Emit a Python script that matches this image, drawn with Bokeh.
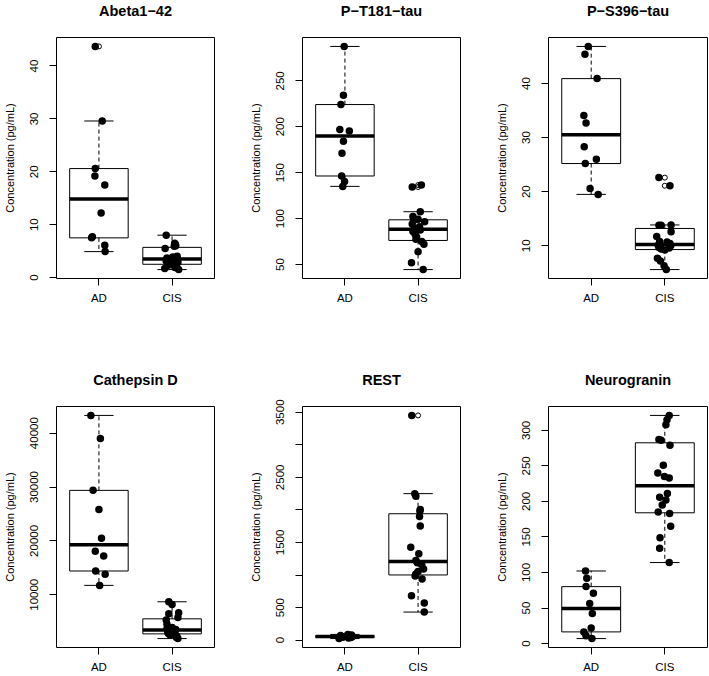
import math
from bokeh.plotting import figure
from bokeh.layouts import column, row
from bokeh.models import Range1d, FixedTicker, ColumnDataSource
from bokeh.embed import file_html
from bokeh.resources import INLINE

FONT = "Liberation Sans"

groups = ["AD", "CIS"]
y_axis_label = "Concentration (pg/mL)"

# ---- Panel 1: Abeta1-42 ----
abeta_title = "Abeta1\u221242"
abeta_ad = [43.7, 29.6, 20.6, 19.2, 17.5, 12.2, 7.5, 7.7, 6.1, 4.9]
abeta_ad_jit = [-0.05, 0.045, -0.05, -0.055, 0.08, 0.03, -0.10, -0.09, 0.08, 0.085]
abeta_cis = [1.5, 1.7, 1.9, 2.3, 2.4, 2.6, 2.9, 3.1, 3.3, 3.4, 3.6, 3.7, 3.9, 4.0, 5.5, 5.9, 6.0, 6.3, 6.5, 8.0]
abeta_cis_jit = [0.09, -0.1, 0.04, -0.05, 0.06, -0.02, 0.08, -0.08, 0.03, -0.04, 0.05, -0.07, 0.01, 0.07, -0.095, 0.03, 0.05, 0.045, 0.035, -0.08]
abeta_ticks = [0, 10, 20, 30, 40]
abeta_tick_labels = ["0", "10", "20", "30", "40"]

# ---- Panel 2: P-T181-tau ----
pt181_title = "P\u2212T181\u2212tau"
pt181_ad = [287.5, 234.4, 224.2, 196.9, 195.5, 184.2, 171.1, 146.4, 140.5, 135.1]
pt181_ad_jit = [-0.01, -0.02, -0.055, -0.07, 0.06, -0.02, -0.04, -0.045, -0.005, -0.03]
pt181_cis = [44.5, 52, 64, 72, 75, 77.4, 80, 83, 86, 87.5, 89.5, 91, 94, 96.5, 98, 99.4, 102.4, 107.5, 134.4, 136.5]
pt181_cis_jit = [0.07, -0.09, 0.0, 0.08, 0.05, -0.03, -0.02, -0.04, -0.07, 0.03, -0.05, 0.02, -0.08, 0.09, -0.06, 0.0, -0.07, 0.03, -0.08, 0.045]
pt181_ticks = [50, 100, 150, 200, 250]
pt181_tick_labels = ["50", "100", "150", "200", "250"]

# ---- Panel 3: P-S396-tau ----
ps396_title = "P\u2212S396\u2212tau"
ps396_ad = [46.85, 45.4, 40.9, 34.1, 32.7, 28.3, 26.0, 25.2, 20.6, 19.5]
ps396_ad_jit = [-0.04, -0.085, 0.08, -0.10, -0.07, -0.095, 0.07, -0.08, -0.015, 0.095]
ps396_cis = [5.6, 6.3, 7.2, 7.7, 9.2, 9.4, 9.6, 9.7, 10.0, 10.1, 10.4, 10.7, 10.8, 11.7, 12.6, 13.8, 13.8, 13.85, 21.1, 22.6]
ps396_cis_jit = [0.02, -0.01, -0.06, -0.10, 0.0, -0.05, 0.06, -0.08, 0.08, -0.09, 0.07, 0.03, -0.07, -0.11, 0.085, -0.08, -0.05, 0.085, 0.07, -0.08]
ps396_ticks = [10, 20, 30, 40]
ps396_tick_labels = ["10", "20", "30", "40"]

# ---- Panel 4: Cathepsin D ----
cathd_title = "Cathepsin D"
cathd_ad = [43292, 39006, 29379, 25839, 20497, 18075, 17205, 14410, 13789, 11739]
cathd_ad_jit = [-0.11, 0.02, -0.08, 0.0, 0.035, -0.05, 0.065, -0.045, 0.085, 0.01]
cathd_cis = [1863, 2050, 2300, 2550, 2650, 2816, 2950, 3100, 3250, 3400, 3556, 3700, 3900, 4500, 5300, 5756, 6460, 6650, 8199, 8696]
cathd_cis_jit = [0.08, 0.06, 0.065, -0.03, 0.03, -0.05, 0.01, -0.06, 0.04, -0.02, 0.05, -0.07, 0.0, -0.07, -0.08, 0.08, -0.045, 0.09, 0.0, -0.045]
cathd_ticks = [10000, 20000, 30000, 40000]
cathd_tick_labels = ["10000", "20000", "30000", "40000"]

# ---- Panel 5: REST ----
rest_title = "REST"
rest_ad = [24, 33, 40, 45, 52, 60, 64, 70, 78, 88]
rest_ad_jit = [-0.08, 0.05, 0.08, -0.03, 0.1, 0.02, 0.07, -0.06, 0.09, 0.04]
rest_cis = [431, 570, 683, 940, 985, 1017, 1053, 1094, 1156, 1190, 1222, 1325, 1428, 1751, 1900, 1982, 2008, 2208, 2250, 3451]
rest_cis_jit = [0.085, 0.085, -0.09, 0.055, -0.04, -0.03, 0.0, 0.075, 0.05, -0.01, -0.03, 0.01, -0.1, 0.03, 0.02, 0.025, 0.03, -0.03, -0.045, -0.086]
rest_ticks = [0, 500, 1000, 1500, 2000, 2500, 3000, 3500]
rest_tick_labels = ["0", "500", "", "1500", "", "2500", "", "3500"]

# ---- Panel 6: Neurogranin ----
neuro_title = "Neurogranin"
neuro_ad = [102.1, 91.8, 80.1, 70.7, 56.2, 42.2, 22.0, 16.4, 10.8, 7.0]
neuro_ad_jit = [-0.077, -0.06, -0.07, 0.03, -0.02, 0.015, 0.0, -0.1, -0.07, 0.01]
neuro_cis = [321, 315, 308, 287, 286, 279, 251, 240, 235, 233, 211, 206, 202, 195, 185, 183, 165, 149, 134, 114]
neuro_cis_jit = [0.06, 0.03, 0.015, -0.08, -0.05, 0.07, -0.02, -0.095, -0.005, 0.06, 0.035, -0.07, 0.015, -0.035, -0.09, 0.065, 0.08, -0.065, -0.07, 0.06]
neuro_ticks = [0, 50, 100, 150, 200, 250, 300]
neuro_tick_labels = ["0", "50", "100", "150", "200", "250", "300"]


def fivenum(v):
    x = sorted(v)
    n = len(x)
    n4 = math.floor((n + 3) / 2) / 2
    d = [1, n4, (n + 1) / 2, n + 1 - n4, n]
    return [0.5 * (x[math.floor(di) - 1] + x[math.ceil(di) - 1]) for di in d]


def box_stats(v):
    _, q1, med, q3, _ = fivenum(v)
    iqr = q3 - q1
    lo_f, hi_f = q1 - 1.5 * iqr, q3 + 1.5 * iqr
    inside = [a for a in v if lo_f <= a <= hi_f]
    out = [a for a in v if a < lo_f or a > hi_f]
    return q1, med, q3, min(inside), max(inside), out


def make_panel(title, ad, ad_jit, cis, cis_jit, ticks, tick_labels,
               width, bl, br, height, bt, bb):
    allv = ad + cis
    lo, hi = min(allv), max(allv)
    ext = 0.04 * (hi - lo)
    p = figure(width=width, height=height,
               x_range=Range1d(0.42, 2.58), y_range=Range1d(lo - ext, hi + ext),
               output_backend="svg", toolbar_location=None,
               min_border_left=bl, min_border_right=br,
               min_border_top=bt, min_border_bottom=bb,
               title=title + "\n ")
    p.background_fill_color = "white"
    p.border_fill_color = "white"
    p.outline_line_color = "black"
    p.outline_line_width = 1
    p.outline_line_alpha = 1.0
    p.xgrid.visible = False
    p.ygrid.visible = False

    p.title.text_font = FONT
    p.title.text_font_size = "14.5px"
    p.title.text_font_style = "bold"
    p.title.align = "center"
    p.title.vertical_align = "top"
    p.title.text_color = "black"
    p.title.standoff = 2

    positions = [1, 2]
    p.xaxis.ticker = FixedTicker(ticks=positions)
    p.xaxis.major_label_overrides = {pos: g for pos, g in zip(positions, groups)}
    p.yaxis.ticker = FixedTicker(ticks=ticks)
    p.yaxis.major_label_overrides = {t: l for t, l in zip(ticks, tick_labels)}
    for ax in (p.xaxis, p.yaxis):
        ax.axis_line_color = None
        ax.major_tick_out = 7
        ax.major_tick_in = 0
        ax.major_tick_line_color = "black"
        ax.minor_tick_line_color = None
        ax.major_label_text_font = FONT
        ax.major_label_text_font_size = "11.5px"
        ax.major_label_text_color = "black"
    p.xaxis.major_label_standoff = 6
    p.yaxis.major_label_standoff = 11
    p.yaxis.major_label_orientation = "vertical"
    p.yaxis.axis_label = y_axis_label
    p.yaxis.axis_label_text_font = FONT
    p.yaxis.axis_label_text_font_size = "11px"
    p.yaxis.axis_label_text_font_style = "normal"
    p.yaxis.axis_label_text_color = "black"
    p.yaxis.axis_label_standoff = 12

    for pos, vals, jit in ((1, ad, ad_jit), (2, cis, cis_jit)):
        q1, med, q3, wlo, whi, out = box_stats(vals)
        p.quad(left=[pos - 0.4], right=[pos + 0.4], bottom=[q1], top=[q3],
               fill_color=None, line_color="black", line_width=1)
        p.segment(x0=[pos, pos], y0=[q3, q1], x1=[pos, pos], y1=[whi, wlo],
                  line_color="black", line_width=1, line_dash="4 3")
        p.segment(x0=[pos - 0.2, pos - 0.2], y0=[whi, wlo], x1=[pos + 0.2, pos + 0.2], y1=[whi, wlo],
                  line_color="black", line_width=1)
        p.segment(x0=[pos - 0.4], y0=[med], x1=[pos + 0.4], y1=[med],
                  line_color="black", line_width=3.5)
        if out:
            p.scatter(x=[pos] * len(out), y=out, size=5, marker="circle",
                      fill_color=None, line_color="black", line_width=1)
        src = ColumnDataSource(dict(x=[pos + j for j in jit], y=vals))
        p.scatter(x="x", y="y", source=src, size=7.5, marker="circle",
                  fill_color="black", line_color=None)
    return p


top_h, bot_h = 369, 307
p1 = make_panel(abeta_title, abeta_ad, abeta_ad_jit, abeta_cis, abeta_cis_jit, abeta_ticks, abeta_tick_labels,
                246, 54, 32, top_h, 37, 91)
p2 = make_panel(pt181_title, pt181_ad, pt181_ad_jit, pt181_cis, pt181_cis_jit, pt181_ticks, pt181_tick_labels,
                246, 54, 32, top_h, 37, 91)
p3 = make_panel(ps396_title, ps396_ad, ps396_ad_jit, ps396_cis, ps396_cis_jit, ps396_ticks, ps396_tick_labels,
                217, 55, 2, top_h, 37, 91)
p4 = make_panel(cathd_title, cathd_ad, cathd_ad_jit, cathd_cis, cathd_cis_jit, cathd_ticks, cathd_tick_labels,
                246, 54, 32, bot_h, 37, 29)
p5 = make_panel(rest_title, rest_ad, rest_ad_jit, rest_cis, rest_cis_jit, rest_ticks, rest_tick_labels,
                246, 54, 32, bot_h, 37, 29)
p6 = make_panel(neuro_title, neuro_ad, neuro_ad_jit, neuro_cis, neuro_cis_jit, neuro_ticks, neuro_tick_labels,
                217, 55, 2, bot_h, 37, 29)

layout = column(row(p1, p2, p3), row(p4, p5, p6))
open("out.html", "w").write(file_html(layout, INLINE))
